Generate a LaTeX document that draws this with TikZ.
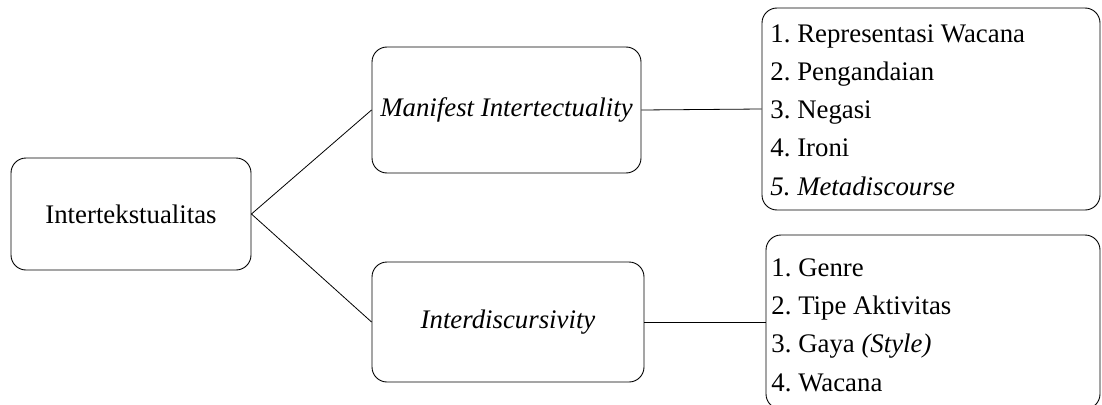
\documentclass[tikz,border=0pt]{standalone}
\usepackage{fontspec}
\setmainfont{Liberation Serif}
\frenchspacing
\begin{document}
\begin{tikzpicture}[x=1pt,y=-1pt,
  box/.style={draw=black, line width=0.9pt, rounded corners=15pt, inner sep=0pt,
    font=\fontsize{26.8}{31}\selectfont, align=center},
  listbox/.style={draw=black, line width=0.9pt, rounded corners=15pt, inner sep=0pt,
    font=\fontsize{26.8}{38.3}\selectfont},
  link/.style={draw=black, line width=0.8pt}]
\useasboundingbox (0,0) rectangle (1102,404);
\node[box, minimum width=240pt, minimum height=112pt] (root) at (131,214) {Intertekstualitas};
\node[box, minimum width=269pt, minimum height=126pt] (mi) at (506.5,110) {\itshape Manifest Intertectuality};
\node[box, minimum width=272pt, minimum height=120pt] (id) at (508,322) {\itshape Interdiscursivity};
\node[listbox, minimum width=338pt, minimum height=202pt] (l1) at (931,109) {};
\node[listbox, minimum width=334pt, minimum height=174pt] (l2) at (933,322) {};
\node[listbox, draw=none, anchor=west, align=left] (t1) at (770,110)
  {1. Representasi Wacana\\2. Pengandaian\\3. Negasi\\4. Ironi\\\itshape 5. Metadiscourse};
\node[listbox, draw=none, anchor=west, align=left] (t2) at (771,325)
  {1. Genre\\2. Tipe Aktivitas\\3. Gaya \textit{(Style)}\\4. Wacana};
\draw[link] (root.east) -- (mi.west);
\draw[link] (root.east) -- (id.west);
\draw[link] (mi.east) -- (l1.west);
\draw[link] (id.east) -- (l2.west);
\end{tikzpicture}
\end{document}
